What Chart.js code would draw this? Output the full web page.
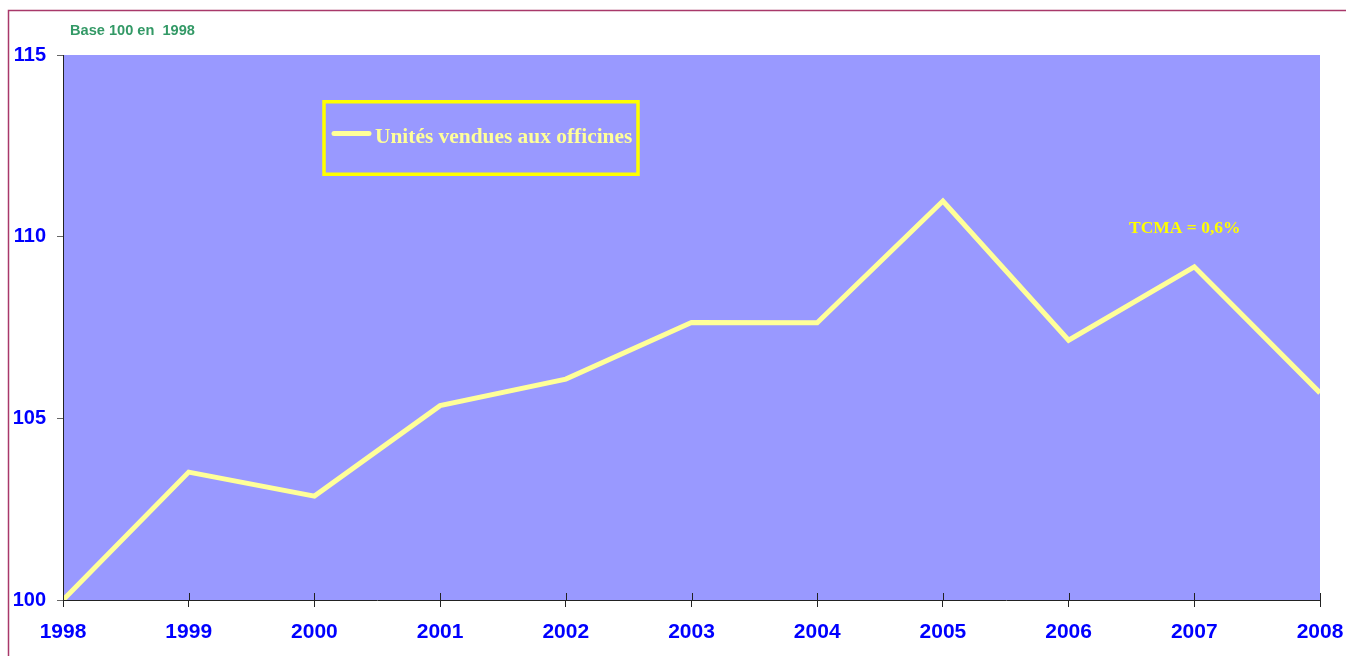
<!DOCTYPE html>
<html><head><meta charset="utf-8">
<script src="https://cdn.jsdelivr.net/npm/chart.js@4/dist/chart.umd.min.js"></script>
<style>html,body{margin:0;padding:0;background:#fff;}#wrap{width:1346px;height:656px;}</style>
</head><body><div id="wrap"><canvas id="c" width="1346" height="656"></canvas></div>
<script>
const years = ['1998','1999','2000','2001','2002','2003','2004','2005','2006','2007','2008'];
const unitesVendues = [100, 103.52, 102.86, 105.35, 106.08, 107.64, 107.63, 110.98, 107.15, 109.17, 105.7];
const seriesLabel = 'Unités vendues aux officines';
const yTicks = [100, 105, 110, 115];
const baseNote = 'Base 100 en  1998';
const tcmaNote = 'TCMA = 0,6%';

const deco = {
  id: 'deco',
  beforeDraw(chart) {
    const {ctx, chartArea: a} = chart;
    ctx.save();
    ctx.fillStyle = '#9999FF';
    ctx.fillRect(a.left, a.top, a.right - a.left, a.bottom - a.top);
    ctx.strokeStyle = '#A8386A';
    ctx.lineWidth = 1.5;
    ctx.beginPath();
    ctx.moveTo(8.5, 660); ctx.lineTo(8.5, 10.5); ctx.lineTo(1350, 10.5);
    ctx.stroke();
    ctx.fillStyle = '#339966';
    ctx.font = 'bold 14.6px "Liberation Sans", Arial, sans-serif';
    ctx.textBaseline = 'middle';
    ctx.textAlign = 'left';
    ctx.fillText(baseNote, 70, 31);
    ctx.restore();
  },
  afterDatasetsDraw(chart) {
    const {ctx} = chart;
    const xs = chart.scales.x;
    ctx.save();
    ctx.strokeStyle = '#222';
    ctx.lineWidth = 1;
    ctx.beginPath();
    for (let i = 0; i < years.length; i++) {
      const px = Math.round(xs.getPixelForTick(i)) + 0.5;
      ctx.moveTo(px, xs.top - 7); ctx.lineTo(px, xs.top);
    }
    ctx.stroke();
    ctx.strokeStyle = '#FFFF00';
    ctx.lineWidth = 3.5;
    ctx.strokeRect(324, 101.75, 314, 72.5);
    ctx.strokeStyle = '#FFFF99';
    ctx.lineWidth = 5;
    ctx.lineCap = 'round';
    ctx.beginPath(); ctx.moveTo(334, 133.5); ctx.lineTo(369, 133.5); ctx.stroke();
    ctx.fillStyle = '#FFFF99';
    ctx.font = 'bold 21.4px "Liberation Serif", "Times New Roman", serif';
    ctx.textAlign = 'left';
    ctx.textBaseline = 'alphabetic';
    ctx.fillText(seriesLabel, 375, 143);
    ctx.fillStyle = '#FFFF00';
    ctx.font = 'bold 17.5px "Liberation Serif", "Times New Roman", serif';
    ctx.fillText(tcmaNote, 1129, 233);
    ctx.restore();
  }
};

new Chart(document.getElementById('c'), {
  type: 'line',
  data: {
    labels: years,
    datasets: [{
      label: seriesLabel,
      data: unitesVendues,
      borderColor: '#FFFF99',
      borderWidth: 5,
      pointRadius: 0,
      tension: 0,
      clip: 0,
      fill: false
    }]
  },
  options: {
    responsive: false,
    animation: false,
    layout: {padding: {left: 0, right: 26, top: 55, bottom: 0}},
    plugins: {legend: {display: false}, tooltip: {enabled: false}},
    scales: {
      x: {
        type: 'category',
        offset: false,
        afterFit(s) { s.height = 56; s.paddingRight = 0; },
        grid: {drawOnChartArea: false, drawTicks: true, tickLength: 7, color: '#222'},
        border: {color: '#222', width: 1},
        ticks: {color: '#0000FF', font: {family: '"Liberation Sans", Arial, sans-serif', size: 21, weight: 'bold'}, padding: 13, maxRotation: 0, autoSkip: false}
      },
      y: {
        min: 100, max: 115,
        afterFit(s) { s.width = 63; },
        afterBuildTicks(s) { s.ticks = yTicks.map(v => ({value: v})); },
        grid: {drawOnChartArea: false, drawTicks: true, tickLength: 6, color: '#666'},
        border: {color: '#222', width: 1},
        ticks: {color: '#0000FF', font: {family: '"Liberation Sans", Arial, sans-serif', size: 20, weight: 'bold'}, padding: 11}
      }
    }
  },
  plugins: [deco]
});
</script></body></html>
